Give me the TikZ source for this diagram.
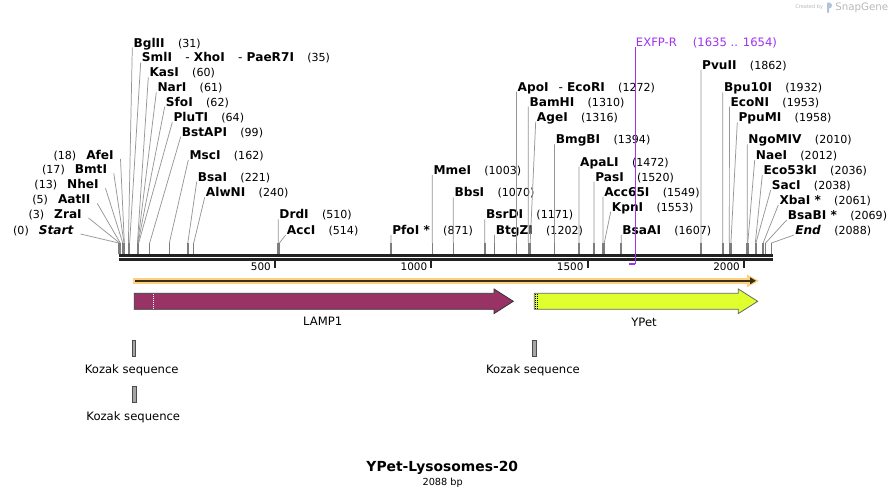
\documentclass[tikz,border=0pt]{standalone}
\usepackage{fontspec}
\setmainfont{DejaVu Sans}
\usetikzlibrary{arrows.meta}
\definecolor{lampc}{RGB}{153,51,102}
\definecolor{ypetc}{RGB}{223,255,47}
\definecolor{orfc}{RGB}{250,210,128}
\definecolor{orfd}{RGB}{60,45,25}
\definecolor{primc}{RGB}{160,50,240}
\definecolor{barc}{RGB}{34,34,34}
\definecolor{linec}{RGB}{150,150,150}
\definecolor{stubc}{RGB}{125,125,125}
\definecolor{wmc}{RGB}{185,185,185}
\definecolor{logoc}{RGB}{175,195,220}
\newcommand\enzn[1]{\hspace{10pt}{\mdseries\fontsize{8.3}{10}\selectfont(#1)}}
\newcommand\enzp[1]{{\mdseries\fontsize{8.3}{10}\selectfont(#1)}\hspace{7.5pt}}
\newcommand\enzR[5]{%
 \node[elab,anchor=west] (e#1) at (#2,#3) {#5};
 \coordinate (t#1) at ({118.7+0.31267*#4},243);
 \coordinate (b#1) at ({118.7+0.31267*#4},254);
 \draw[eline] ([shift={(-1,5)}]e#1.west) -- (t#1);
 \draw[estub] (t#1) -- (b#1);}
\newcommand\enzL[5]{%
 \node[elab,anchor=east] (e#1) at (#2,#3) {#5};
 \coordinate (t#1) at ({118.7+0.31267*#4},243);
 \coordinate (b#1) at ({118.7+0.31267*#4},254);
 \draw[eline] ([shift={(6.5,4)}]e#1.east) -- (t#1);
 \draw[estub] (t#1) -- (b#1);}
\tikzset{
 elab/.style={inner sep=0pt, font=\bfseries\fontsize{9.1}{11}\selectfont, text height=6.8pt, text depth=0pt},
 eline/.style={draw=linec, line width=0.55pt},
 estub/.style={draw=stubc, line width=1.1pt},
 tlab/.style={inner sep=0pt, font=\fontsize{7.8}{9}\selectfont, text height=5.7pt, text depth=0pt, anchor=east},
 tickmark/.style={draw=barc, line width=1.5pt},
 flab/.style={inner sep=0pt, font=\fontsize{8.7}{10}\selectfont, text height=6.3pt, text depth=0pt},
 kbox/.style={draw=black!70, fill=gray!70, line width=0.45pt, minimum width=2.5pt, minimum height=12pt, inner sep=0pt},
}
\begin{document}
\begin{tikzpicture}[x=0.75pt,y=-0.75pt]
\fill[white] (0,0) rectangle (892,498);
\useasboundingbox (0,0) rectangle (892,498);

% watermark
\node[anchor=west, inner sep=0pt, text=wmc, font=\fontsize{3.8}{4}\selectfont] (wm1) at (795,7.5) {Created by};
\fill[logoc, rounded corners=0.6pt] (827,2.5) rectangle (829.2,13);
\fill[logoc] (829,2.5) .. controls (833,3) and (833,8) .. (829,8.5) -- cycle;
\node[anchor=west, inner sep=0pt, text=wmc, font=\fontsize{7.7}{9}\selectfont] (wm2) at (835,7.5) {SnapGene};

% enzymes right side
\enzR{1}{133.3}{42.5}{31}{BglII\enzn{31}}
\enzR{2}{141.7}{57.3}{35}{SmlI\hspace{10pt}{\mdseries-} XhoI\hspace{10pt}{\mdseries-} PaeR7I\enzn{35}}
\enzR{3}{149.3}{72.3}{60}{KasI\enzn{60}}
\enzR{4}{157.3}{87.3}{61}{NarI\enzn{61}}
\enzR{5}{165.7}{101.7}{62}{SfoI\enzn{62}}
\enzR{6}{173.3}{117.3}{64}{PluTI\enzn{64}}
\enzR{7}{181.7}{131.7}{99}{BstAPI\enzn{99}}
\enzR{8}{189.3}{155}{162}{MscI\enzn{162}}
\enzR{9}{197.7}{176.7}{221}{BsaI\enzn{221}}
\enzR{10}{205.7}{192.3}{240}{AlwNI\enzn{240}}
\enzR{11}{279.2}{214.3}{510}{DrdI\enzn{510}}
\enzR{12}{286.7}{230}{514}{AccI\enzn{514}}
\enzR{13}{392}{230}{871}{PfoI *\enzn{871}}
\enzR{14}{433.3}{170}{1003}{MmeI\enzn{1003}}
\enzR{15}{454.3}{192.3}{1070}{BbsI\enzn{1070}}
\enzR{16}{485.8}{214.3}{1171}{BsrDI\enzn{1171}}
\enzR{17}{495.5}{230}{1202}{BtgZI\enzn{1202}}
\enzR{18}{517.4}{86.7}{1272}{ApoI\hspace{7.5pt}{\mdseries-} EcoRI\enzn{1272}}
\enzR{19}{529.3}{101.7}{1310}{BamHI\enzn{1310}}
\enzR{20}{536.7}{116.7}{1316}{AgeI\enzn{1316}}
\enzR{21}{555.6}{139.3}{1394}{BmgBI\enzn{1394}}
\enzR{22}{579.9}{161.7}{1472}{ApaLI\enzn{1472}}
\enzR{23}{595}{176.7}{1520}{PasI\enzn{1520}}
\enzR{24}{604}{191.7}{1549}{Acc65I\enzn{1549}}
\enzR{25}{611.7}{206.7}{1553}{KpnI\enzn{1553}}
\enzR{26}{622.2}{230}{1607}{BsaAI\enzn{1607}}
\enzR{27}{701.9}{65}{1862}{PvuII\enzn{1862}}
\enzR{28}{723.8}{87.3}{1932}{Bpu10I\enzn{1932}}
\enzR{29}{730.4}{101.7}{1953}{EcoNI\enzn{1953}}
\enzR{30}{738.3}{117.3}{1958}{PpuMI\enzn{1958}}
\enzR{31}{748.2}{139.3}{2010}{NgoMIV\enzn{2010}}
\enzR{32}{755.7}{155}{2012}{NaeI\enzn{2012}}
\enzR{33}{763.3}{170}{2036}{Eco53kI\enzn{2036}}
\enzR{34}{771.7}{185}{2038}{SacI\enzn{2038}}
\enzR{35}{779.3}{200}{2061}{XbaI *\enzn{2061}}
\enzR{36}{787.7}{215}{2069}{BsaBI *\enzn{2069}}
\enzR{37}{795}{230}{2088}{\textit{End}\enzn{2088}}
% enzymes left side
\enzL{38}{114}{155}{18}{\enzp{18}AfeI}
\enzL{39}{107.3}{169.3}{17}{\enzp{17}BmtI}
\enzL{40}{99}{184.3}{13}{\enzp{13}NheI}
\enzL{41}{90.7}{199.3}{5}{\enzp{5}AatII}
\enzL{42}{82}{214}{3}{\enzp{3}ZraI}
\enzL{43}{74}{230}{0}{\enzp{0}\textit{Start}}

% sequence bar
\draw[barc, line width=2pt] (118.7,255.3) -- (772.7,255.3);
\draw[barc, line width=2.4pt] (118.7,259.4) -- (772.7,259.4);

% ticks
\draw[tickmark] (275,261) -- (275,268);
\draw[tickmark] (431.4,261) -- (431.4,268);
\draw[tickmark] (587.7,261) -- (587.7,268);
\draw[tickmark] (744.1,261) -- (744.1,268);
\node[tlab] (k500) at (271,267) {500};
\node[tlab] (k1000) at (427.4,267) {1000};
\node[tlab] (k1500) at (583.7,267) {1500};
\node[tlab] (k2000) at (740.1,267) {2000};

% primer
\node[flab, anchor=west, text=primc] (pr) at (635.7,42.3) {EXFP-R\hspace{12pt}(1635 .. 1654)};
\coordinate (pa) at (635,264);
\coordinate (pb) at (629.1,264);
\draw[primc, line width=0.75pt] (pa |- pr.south) -- (pa);
\draw[primc, line width=1.5pt] ([xshift=0.3pt]pa) -- (pb);

% ORF line
\fill[orfc] (133.3,277.8) rectangle (750,283.9);
\fill[orfc] (747,274.5) -- (759,280.8) -- (747,287.2) -- cycle;
\draw[orfd, line width=1.5pt, -{Triangle[length=4.5pt,width=5pt]}] (135,280.8) -- (756,280.8);

% LAMP1
\filldraw[fill=lampc, draw=black!80, line width=0.6pt] (134.3,293.3) -- (494,293.3) -- (494,289) -- (513.3,301.3) -- (494,313.6) -- (494,309.3) -- (134.3,309.3) -- cycle;
\draw[white, line width=0.6pt, dash pattern=on 0.75pt off 0.75pt] (153.3,294) -- (153.3,308.6);
\node[flab] (lamp) at (322.7,321.7) {LAMP1};

% YPet
\filldraw[fill=ypetc, draw=black!60, line width=0.6pt] (534.3,293.3) -- (738.3,293.3) -- (738.3,289) -- (757.7,301.3) -- (738.3,313.6) -- (738.3,309.3) -- (534.3,309.3) -- cycle;
\draw[black, line width=0.5pt, dash pattern=on 0.75pt off 0.75pt] (535.8,294) -- (535.8,308.6);
\draw[black, line width=0.5pt, dash pattern=on 0.75pt off 0.75pt] (537.6,294) -- (537.6,308.6);
\node[flab] (ypet) at (644,322) {YPet};

% Kozak sequences
\node[kbox] (kz1) at (134,348.3) {};
\node[flab] (kzl1) at (131.7,369.3) {Kozak sequence};
\node[kbox] (kz2) at (134.3,394.7) {};
\node[flab] (kzl2) at (133.3,416) {Kozak sequence};
\node[kbox] (kz3) at (534.4,348.3) {};
\node[flab] (kzl3) at (533,369.3) {Kozak sequence};

% title
\node[inner sep=0pt, font=\bfseries\fontsize{10.4}{12}\selectfont] (title) at (442.3,468) {YPet-Lysosomes-20};
\node[inner sep=0pt, font=\fontsize{7.3}{9}\selectfont] (len) at (442.7,483.3) {2088 bp};
\end{tikzpicture}
\end{document}
